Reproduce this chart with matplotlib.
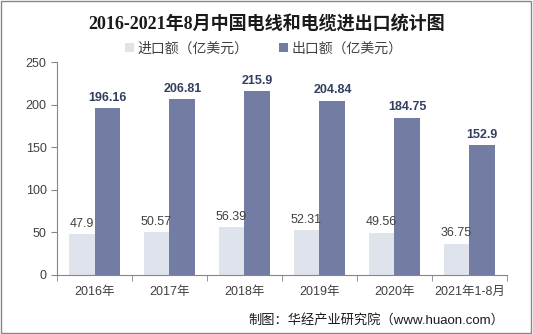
import numpy as np
import matplotlib.pyplot as plt
from matplotlib.patches import Rectangle

plt.rcParams['font.family'] = ['Liberation Sans', 'Noto Sans CJK SC', 'DejaVu Sans']

categories = ["2016年", "2017年", "2018年", "2019年", "2020年", "2021年1-8月"]
imports = [47.9, 50.57, 56.39, 52.31, 49.56, 36.75]
exports = [196.16, 206.81, 215.9, 204.84, 184.75, 152.9]
import_labels = ["47.9", "50.57", "56.39", "52.31", "49.56", "36.75"]
export_labels = ["196.16", "206.81", "215.9", "204.84", "184.75", "152.9"]

c_imp = "#DFE3EC"
c_exp = "#737DA3"

fig = plt.figure(figsize=(5.33, 3.34), dpi=100)
ax = fig.add_axes([0.107, 0.177, 0.844, 0.637])

x = np.arange(len(categories))
w = 0.345
ax.bar(x - w / 2, imports, w, color=c_imp, label="进口额（亿美元）")
ax.bar(x + w / 2, exports, w, color=c_exp, label="出口额（亿美元）")

for i in range(len(categories)):
    ax.text(x[i] - w / 2, imports[i] + 5, import_labels[i], ha="center", va="bottom",
            fontsize=9, color="#404040")
    ax.text(x[i] + w / 2, exports[i] + 5, export_labels[i], ha="center", va="bottom",
            fontsize=9, color="#333F5F", fontweight="bold")

ax.set_xlim(-0.5, len(categories) - 0.5)
ax.set_ylim(0, 250)
ax.set_yticks([0, 50, 100, 150, 200, 250])
ax.set_xticks(x)
ax.set_xticklabels(categories, fontsize=9, color="#404040")
ax.set_xticks(np.arange(-0.5, len(categories), 1), minor=True)
ax.tick_params(axis="x", which="major", length=0, pad=8)
ax.tick_params(axis="x", which="minor", length=4, color="#868686")
ax.tick_params(axis="y", length=4, color="#868686", labelsize=9, labelcolor="#404040")

for s in ["top", "right"]:
    ax.spines[s].set_visible(False)
ax.spines["left"].set_color("#868686")
ax.spines["bottom"].set_color("#868686")

fig.text(0.5, 0.928, "2016-2021年8月中国电线和电缆进出口统计图", ha="center", va="center",
         fontsize=13, fontweight="bold", color="#1a1a1a",
         family=["Liberation Serif", "Noto Sans CJK SC"])

ax.legend(loc="lower center", bbox_to_anchor=(0.46, 1.0), ncol=2, frameon=False,
          fontsize=10, handlelength=0.6, handleheight=0.6, handletextpad=0.3,
          columnspacing=2.2, labelcolor="#404040", borderaxespad=0.1)

fig.text(0.947, 0.04, "制图：华经产业研究院（www.huaon.com）", ha="right", va="center",
         fontsize=9.5, color="#1a1a1a")

fig.patches.append(Rectangle((0.002, 0.003), 0.995, 0.993, transform=fig.transFigure,
                             fill=False, edgecolor="#868686", linewidth=1))

fig.savefig("out.png", dpi=100)
